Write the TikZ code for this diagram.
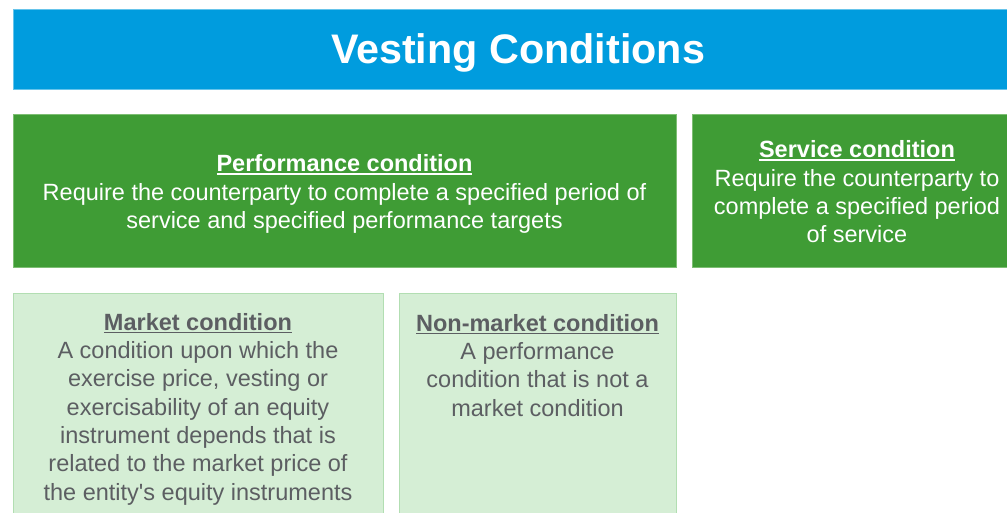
\documentclass[tikz,border=0pt]{standalone}
\usepackage{fontspec}
\setmainfont{Liberation Sans}[Ligatures=TeXOff]
\definecolor{barblue}{RGB}{0,156,222}
\definecolor{dgreen}{RGB}{63,156,53}
\definecolor{dgreenedge}{RGB}{125,190,115}
\definecolor{lgreen}{RGB}{213,238,213}
\definecolor{lgreenedge}{RGB}{178,222,178}
\definecolor{tgray}{RGB}{92,94,98}
\newcommand\myul[1]{\setbox0\hbox{#1}\rlap{\raisebox{-3.2pt}{\rule{\wd0}{1.8pt}}}\box0}
\tikzset{
  darkbox/.style={draw=dgreenedge, line width=0.8pt, fill=dgreen, anchor=north west, inner sep=0pt},
  darktext/.style={inner sep=0pt, text=white, align=center, font=\fontsize{23.5}{28.3}\selectfont},
  lightbox/.style={draw=lgreenedge, line width=0.8pt, fill=lgreen, anchor=north west, inner sep=0pt},
  lighttext/.style={anchor=north, inner sep=0pt, text=tgray, align=center, font=\fontsize{23.5}{28.3}\selectfont},
}
\begin{document}
\begin{tikzpicture}[x=1pt,y=-1pt]
\useasboundingbox (0,0) rectangle (1007,512);
\clip (0,0) rectangle (1007,512);
\node[fill=barblue, draw=barblue!60!white, line width=0.6pt, anchor=north west, inner sep=0pt, minimum width=1009pt, minimum height=80pt] (title) at (13,9) {};
\node[text=white, font=\fontsize{41.3}{48}\selectfont\bfseries, inner sep=0pt] (titletext) at (518,53) {Vesting Conditions};
\node[darkbox, minimum width=663pt, minimum height=153pt] (perf) at (13,114) {};
\node[darktext] (perftext) at (344.5,194)
  {\myul{\bfseries Performance condition}\\Require the counterparty to complete a specified period of\\service and specified performance targets};
\node[darkbox, minimum width=330pt, minimum height=153pt] (serv) at (692,114) {};
\node[darktext] (servtext) at (857,192)
  {\myul{\bfseries Service condition}\\Require the counterparty to\\complete a specified period\\of service};
\node[lightbox, minimum width=370pt, minimum height=240pt] (market) at (13,293) {};
\node[lightbox, minimum width=277pt, minimum height=240pt] (nonmarket) at (399,293) {};
\node[lighttext] (markettext) at (198,313)
  {\myul{\bfseries Market condition}\\A condition upon which the\\exercise price, vesting or\\exercisability of an equity\\instrument depends that is\\related to the market price of\\the entity's equity instruments};
\node[lighttext] (nonmarkettext) at (537.5,314)
  {\myul{\bfseries Non-market condition}\\A performance\\condition that is not a\\market condition};
\end{tikzpicture}
\end{document}
